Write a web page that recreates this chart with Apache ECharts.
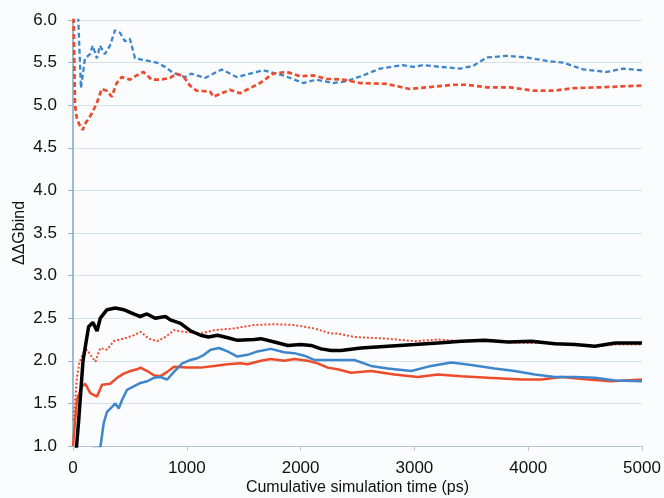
<!DOCTYPE html>
<html>
<head>
<meta charset="utf-8">
<script src="https://cdn.jsdelivr.net/npm/echarts@6/dist/echarts.min.js"></script>
<style>
  html, body { margin: 0; padding: 0; background: #fbfcfe; }
  #chart { width: 664px; height: 498px; }
</style>
</head>
<body>
<div id="chart"></div>
<script>
// [time (ps), ddG]
const blueDashed = [
  [10, 6.6], [45, 6.05], [70, 5.2], [105, 5.55], [150, 5.6], [173, 5.7], [210, 5.55],
  [237, 5.7], [280, 5.6], [325, 5.7], [369, 5.88], [413, 5.85], [457, 5.75], [500, 5.78],
  [545, 5.55], [620, 5.53], [735, 5.5], [808, 5.45], [880, 5.38], [985, 5.33], [1040, 5.37],
  [1160, 5.32], [1307, 5.42], [1438, 5.33], [1672, 5.41], [1848, 5.35], [2024, 5.26],
  [2141, 5.3], [2285, 5.26], [2405, 5.28], [2550, 5.35], [2698, 5.43], [2900, 5.47],
  [2990, 5.45], [3078, 5.47], [3225, 5.45], [3400, 5.43], [3515, 5.46], [3635, 5.56],
  [3811, 5.58], [3987, 5.56], [4163, 5.52], [4306, 5.5], [4482, 5.42], [4690, 5.39],
  [4833, 5.43], [5000, 5.41]
];
const redDashed = [
  [0, 6.4], [18, 5.0], [32, 4.86], [53, 4.78], [85, 4.71], [105, 4.78], [126, 4.82],
  [164, 4.9], [208, 5.02], [252, 5.19], [296, 5.17], [340, 5.1], [384, 5.26], [428, 5.33],
  [501, 5.3], [560, 5.35], [618, 5.39], [691, 5.3], [765, 5.3], [852, 5.32], [911, 5.37],
  [970, 5.34], [1028, 5.23], [1087, 5.17], [1204, 5.16], [1233, 5.1], [1380, 5.18],
  [1467, 5.14], [1643, 5.26], [1757, 5.37], [1878, 5.39], [1995, 5.34], [2110, 5.35],
  [2229, 5.31], [2375, 5.3], [2522, 5.26], [2756, 5.25], [2961, 5.19], [3108, 5.21],
  [3342, 5.24], [3459, 5.24], [3635, 5.21], [3840, 5.21], [4045, 5.17], [4221, 5.17],
  [4397, 5.2], [4631, 5.21], [4807, 5.22], [5000, 5.23]
];
const blackSolid = [
  [25, 0.9], [50, 1.3], [88, 2.0], [137, 2.4], [175, 2.45], [211, 2.35], [240, 2.5],
  [299, 2.6], [372, 2.62], [446, 2.6], [532, 2.55], [590, 2.52], [650, 2.55], [722, 2.5],
  [812, 2.52], [855, 2.48], [945, 2.44], [1033, 2.35], [1122, 2.3], [1190, 2.28],
  [1270, 2.3], [1360, 2.27], [1447, 2.24], [1592, 2.25], [1650, 2.26], [1770, 2.22],
  [1888, 2.18], [2000, 2.19], [2092, 2.18], [2180, 2.14], [2270, 2.12], [2355, 2.12],
  [2531, 2.15], [2766, 2.17], [3001, 2.19], [3207, 2.21], [3412, 2.23], [3618, 2.24],
  [3824, 2.22], [4029, 2.23], [4234, 2.2], [4411, 2.19], [4587, 2.17], [4763, 2.21],
  [5000, 2.21]
];
const redDotted = [
  [5, 1.3], [35, 1.81], [58, 1.99], [94, 2.1], [123, 2.13], [152, 2.07], [197, 1.99],
  [240, 2.15], [299, 2.13], [358, 2.23], [446, 2.26], [534, 2.3], [593, 2.34], [666, 2.26],
  [740, 2.23], [813, 2.28], [887, 2.36], [975, 2.34], [1121, 2.32], [1239, 2.36],
  [1415, 2.38], [1591, 2.42], [1768, 2.43], [1944, 2.42], [2120, 2.38], [2267, 2.32],
  [2326, 2.32], [2472, 2.28], [2766, 2.26], [3001, 2.23], [3207, 2.25], [3412, 2.23],
  [3647, 2.23], [3941, 2.21], [4234, 2.21], [4528, 2.17], [4763, 2.19], [5000, 2.19]
];
const redSolid = [
  [0, 1.0], [35, 1.55], [79, 1.7], [108, 1.73], [152, 1.62], [211, 1.58], [255, 1.72],
  [328, 1.73], [387, 1.8], [446, 1.85], [505, 1.88], [564, 1.9], [593, 1.92], [652, 1.88],
  [711, 1.83], [769, 1.82], [828, 1.87], [887, 1.93], [1004, 1.92], [1121, 1.92],
  [1239, 1.94], [1357, 1.96], [1474, 1.97], [1533, 1.96], [1650, 2.0], [1738, 2.02],
  [1856, 2.0], [1944, 2.02], [2062, 2.0], [2150, 1.97], [2238, 1.92], [2326, 1.9],
  [2443, 1.86], [2619, 1.88], [2825, 1.84], [3030, 1.81], [3207, 1.84], [3412, 1.82],
  [3647, 1.8], [3941, 1.78], [4117, 1.78], [4293, 1.81], [4528, 1.78], [4733, 1.76],
  [5000, 1.78]
];
const blueSolid = [
  [170, 0.97], [240, 0.98], [270, 1.27], [299, 1.4], [343, 1.46], [372, 1.5], [402, 1.44],
  [431, 1.54], [475, 1.66], [534, 1.7], [593, 1.74], [652, 1.76], [711, 1.8], [769, 1.81],
  [828, 1.78], [887, 1.87], [960, 1.97], [1033, 2.01], [1092, 2.03], [1151, 2.07],
  [1210, 2.13], [1283, 2.15], [1357, 2.11], [1445, 2.05], [1533, 2.07], [1621, 2.11],
  [1738, 2.14], [1856, 2.1], [1944, 2.09], [2032, 2.06], [2120, 2.01], [2238, 2.01],
  [2355, 2.01], [2472, 2.01], [2619, 1.94], [2766, 1.91], [2972, 1.88], [3148, 1.94],
  [3324, 1.98], [3500, 1.95], [3706, 1.91], [3882, 1.88], [4058, 1.84], [4234, 1.81],
  [4411, 1.81], [4587, 1.8], [4763, 1.77], [5000, 1.76]
];

const BLUE = "#3d86cc";
const RED = "#ee4b2b";

function line(data, color, width, type) {
  return {
    type: "line",
    data: data,
    showSymbol: false,
    smooth: false,
    clip: true,
    lineStyle: { color: color, width: width, type: type },
  };
}

var myChart = echarts.init(document.getElementById("chart"));
const option = {
  backgroundColor: "#fbfcfe",
  animation: false,
  textStyle: { fontFamily: "Liberation Sans, Arial, sans-serif" },
  grid: { left: 73, right: 22, top: 20, bottom: 52, outerBoundsMode: "none", containLabel: false },
  xAxis: {
    type: "value",
    min: 0,
    max: 5000,
    interval: 1000,
    name: "Cumulative simulation time (ps)",
    nameLocation: "middle",
    nameGap: 34,
    nameMoveOverlap: false,
    nameTextStyle: { fontSize: 16, color: "#111" },
    axisLine: { onZero: false, lineStyle: { color: "#b8c4cf", width: 1 } },
    axisTick: { show: true, length: 5, lineStyle: { color: "#b8c4cf" } },
    axisLabel: { fontSize: 17, color: "#111", margin: 14, formatter: (v) => String(v) },
    splitLine: { show: false },
  },
  yAxis: {
    type: "value",
    min: 1,
    max: 6,
    interval: 0.5,
    name: "ΔΔGbind",
    nameLocation: "middle",
    nameGap: 45,
    nameMoveOverlap: false,
    nameTextStyle: { fontSize: 16, color: "#111" },
    axisLine: { show: true, lineStyle: { color: "#7ea6c4", width: 1.5 } },
    axisTick: { show: true, length: 5, lineStyle: { color: "#9bb3c6" } },
    axisLabel: {
      fontSize: 17,
      color: "#111",
      margin: 16,
      padding: [5, 0, 0, 0],
      formatter: (v) => v.toFixed(1),
    },
    splitLine: { lineStyle: { color: "#d9e0e6", width: 1 } },
  },
  series: [
    line(blueDashed, BLUE, 2.3, [5, 3]),
    line(redDashed, RED, 2.7, [5, 3]),
    line(redDotted, RED, 2, [2, 2]),
    line(redSolid, RED, 2.5, "solid"),
    line(blueSolid, BLUE, 2.5, "solid"),
    line(blackSolid, "#000", 3.5, "solid"),
  ],
};
myChart.setOption(option);
</script>
</body>
</html>
